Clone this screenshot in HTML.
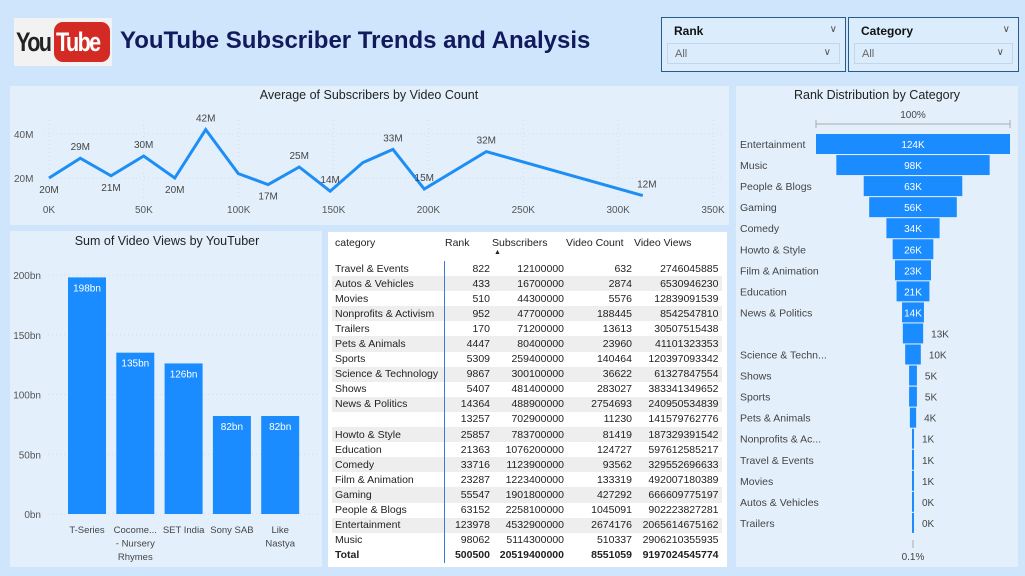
<!DOCTYPE html>
<html><head><meta charset="utf-8"><style>
body{margin:0;width:1025px;height:576px;background:#cfe5fb;font-family:"Liberation Sans",sans-serif;overflow:hidden;position:relative}
.p{position:absolute;background:#e3f0fc}
.sl{position:absolute;border:1.5px solid #2a5a8a;background:#dbecfc;box-sizing:border-box}
.sl b{position:absolute;left:12px;top:6px;font-size:12px;color:#111}
.sl .dd{position:absolute;left:5px;right:5px;top:25px;height:21px;border:1px solid #c0d8ee;font-size:11px;color:#666;padding:4px 0 0 7px;box-sizing:border-box}
.chev{position:absolute;right:8px;font-size:10px;color:#555}
table{border-collapse:collapse;font-size:10.5px;color:#222}
</style></head><body>
<div style="position:absolute;left:14px;top:18px;width:98px;height:48px;background:#f2f2f2">
<span style="position:absolute;left:2px;top:9px;font:bold 27px 'Liberation Sans',sans-serif;color:#222;letter-spacing:-2px;transform:scaleX(.8);transform-origin:left">You</span>
<div style="position:absolute;left:40px;top:4px;width:56px;height:40px;background:#d42a24;border-radius:9px"></div>
<span style="position:absolute;left:42px;top:9px;font:bold 27px 'Liberation Sans',sans-serif;color:#fff;letter-spacing:-2px;transform:scaleX(.8);transform-origin:left">Tube</span></div>
<div style="position:absolute;left:120px;top:27px;font:bold 24px 'Liberation Sans',sans-serif;color:#111a5c">YouTube Subscriber Trends and Analysis</div>
<div class="sl" style="left:661px;top:17px;width:185px;height:55px"><b>Rank</b><span class="chev" style="top:6px">&#8744;</span><div class="dd">All<span class="chev" style="top:3px">&#8744;</span></div></div>
<div class="sl" style="left:848px;top:17px;width:171px;height:55px"><b>Category</b><span class="chev" style="top:6px">&#8744;</span><div class="dd">All<span class="chev" style="top:3px">&#8744;</span></div></div>
<div class="p" style="left:10px;top:86px;width:719px;height:139px"></div>
<div class="p" style="left:10px;top:231px;width:312px;height:336px"></div>
<div class="p" style="left:328px;top:232px;width:399px;height:335px;background:#fff"></div>
<div class="p" style="left:736px;top:86px;width:282px;height:481px"></div>
<svg id="s" width="1025" height="576" style="position:absolute;left:0;top:0" font-family="Liberation Sans, sans-serif"></svg>
<div style="position:absolute;left:332px;top:236px;width:392px">
<table id="t" style="width:390px"></table></div>
<script>
// line chart data
const lineX=[0,16.5,32.7,49.9,66.3,82.6,99.8,115.5,131.9,148.2,165.4,181.3,197.8,230.5,313];
const lineY=[20,29,21,30,20,42,22,17,25,14,27,33,15,32,12];
const lineLbl=["20M","29M","21M","30M","20M","42M","","17M","25M","14M","","33M","15M","32M","12M"];
const lineLblBelow=[1,0,1,0,1,0,0,1,0,0,0,0,0,0,0];
const lineXTicks=[0,50,100,150,200,250,300,350];
const lineYTicks=[20,40];
// bar chart data
const barCats=[["T-Series"],["Cocome...","- Nursery","Rhymes"],["SET India"],["Sony SAB"],["Like","Nastya"]];
const barVals=[198,135,126,82,82];
const barTicks=[0,50,100,150,200];
// funnel data
const funCats=["Entertainment","Music","People & Blogs","Gaming","Comedy","Howto & Style","Film & Animation","Education","News & Politics","","Science & Techn...","Shows","Sports","Pets & Animals","Nonprofits & Ac...","Travel & Events","Movies","Autos & Vehicles","Trailers"];
const funVals=[124,98,63,56,34,26,23,21,14,13,10,5,5,4,1,1,1,0,0];
// table data
const tCats=["Travel & Events","Autos & Vehicles","Movies","Nonprofits & Activism","Trailers","Pets & Animals","Sports","Science & Technology","Shows","News & Politics","","Howto & Style","Education","Comedy","Film & Animation","Gaming","People & Blogs","Entertainment","Music"];
const tRank=[822,433,510,952,170,4447,5309,9867,5407,14364,13257,25857,21363,33716,23287,55547,63152,123978,98062];
const tSubs=[12100000,16700000,44300000,47700000,71200000,80400000,259400000,300100000,481400000,488900000,702900000,783700000,1076200000,1123900000,1223400000,1901800000,2258100000,4532900000,5114300000];
const tVc=[632,2874,5576,188445,13613,23960,140464,36622,283027,2754693,11230,81419,124727,93562,133319,427292,1045091,2674176,510337];
const tVv=["2746045885","6530946230","12839091539","8542547810","30507515438","41101323353","120397093342","61327847554","383341349652","240950534839","141579762776","187329391542","597612585217","329552696633","492007180389","666609775197","902223827281","2065614675162","2906210355935"];
const tTot=["500500","20519400000","8551059","9197024545774"];

const S=document.getElementById('s'),NS="http://www.w3.org/2000/svg";
function el(tag,a,txt){const e=document.createElementNS(NS,tag);for(const k in a)e.setAttribute(k,a[k]);if(txt!==undefined)e.textContent=txt;S.appendChild(e);return e;}
function tx(x,y,t,sz,fill,anc,w){return el('text',{x:x,y:y,'font-size':sz,fill:fill,'text-anchor':anc||'middle','font-weight':w||'normal'},t);}
// line chart
let e=tx(369,99,"Average of Subscribers by Video Count",12.5,"#222");

const lx=v=>49+v*(664/350), ly=v=>178-(v-20)*2.2;
lineYTicks.forEach(v=>{e=el('line',{x1:44,x2:722,y1:ly(v),y2:ly(v),stroke:'#d0deeb','stroke-dasharray':'1,3'});

e=tx(14,ly(v)+4,v+"M",10,"#555","start");
});
lineXTicks.forEach(v=>{e=el('line',{x1:lx(v),x2:lx(v),y1:120,y2:200,stroke:'#d0deeb','stroke-dasharray':'1,3'});

e=tx(lx(v),213,v+"K",10,"#555");
});
e=el('polyline',{points:lineX.map((x,i)=>lx(x)+","+ly(lineY[i])).join(" "),fill:'none',stroke:'#1e8ef5','stroke-width':3,'stroke-linejoin':'miter'});

lineX.forEach((x,i)=>{if(!lineLbl[i])return;const b=lineLblBelow[i];
e=tx(lx(x)+(i==14?4:0),b?ly(lineY[i])+15:ly(lineY[i])-8,lineLbl[i],10,"#444");
});
// bar chart
e=tx(167,245,"Sum of Video Views by YouTuber",12.5,"#222");

const by=v=>514-v*1.195;
barTicks.forEach(v=>{e=el('line',{x1:48,x2:318,y1:by(v),y2:by(v),stroke:'#d0deeb','stroke-dasharray':'1,3'});

e=tx(41,by(v)+4,v+"bn",10,"#555","end");
});
barVals.forEach((v,i)=>{const x=68+i*48.3;
e=el('rect',{x:x,y:by(v),width:38,height:by(0)-by(v),fill:'#1a8cff'});

e=tx(x+19,by(v)+14,v+"bn",10,"#fff");

barCats[i].forEach((l,j)=>{e=tx(x+19,533+j*13.5,l,9.5,"#444");
});});
// funnel
e=tx(877,99,"Rank Distribution by Category",12.5,"#222");

tx(913,118,"100%",10,"#444");
el('line',{x1:816,x2:1010,y1:124,y2:124,stroke:'#aaa'});el('line',{x1:816,x2:816,y1:120,y2:128,stroke:'#aaa'});el('line',{x1:1010,x2:1010,y1:120,y2:128,stroke:'#aaa'});
const fmax=Math.max(...funVals);
funVals.forEach((v,i)=>{const y=134+i*21.05,w=Math.max(2,v/fmax*194);
e=el('rect',{x:913-w/2,y:y,width:w,height:20,fill:'#1a8cff'});

const inside=v>=14;
e=tx(inside?913:913+w/2+8,y+14,v+"K",10,inside?"#fff":"#444",inside?"middle":"start");

if(funCats[i]){e=tx(740,y+14,funCats[i],10.5,"#444","start");
}});
el('line',{x1:913,x2:913,y1:540,y2:548,stroke:'#aaa'});tx(913,560,"0.1%",10,"#444");
// table
const T=document.getElementById('t');
let h='<tr style="height:25px;vertical-align:top"><td style="padding-left:3px;width:108px">category</td><td style="width:45px">Rank</td><td style="width:72px">Subscribers<div style="font-size:7px;margin-left:2px">&#9650;</div></td><td style="width:66px">Video Count</td><td>Video Views</td></tr>';
tCats.forEach((c,i)=>{h+='<tr style="height:15.1px;'+(i%2?'background:#eeeeee':'')+'"><td style="padding-left:3px;border-right:1px solid #3a7bd5;white-space:nowrap">'+c+'</td><td style="text-align:right">'+tRank[i]+'</td><td style="text-align:right">'+tSubs[i]+'</td><td style="text-align:right">'+tVc[i]+'</td><td style="text-align:right;padding-right:3px">'+tVv[i]+'</td></tr>';});
h+='<tr style="height:15px;font-weight:bold"><td style="padding-left:3px;border-right:1px solid #3a7bd5">Total</td>'+tTot.map((t,j)=>'<td style="text-align:right;'+(j==3?'padding-right:3px':'')+'">'+t+'</td>').join('')+'</tr>';
T.innerHTML=h;
</script>
</body></html>
